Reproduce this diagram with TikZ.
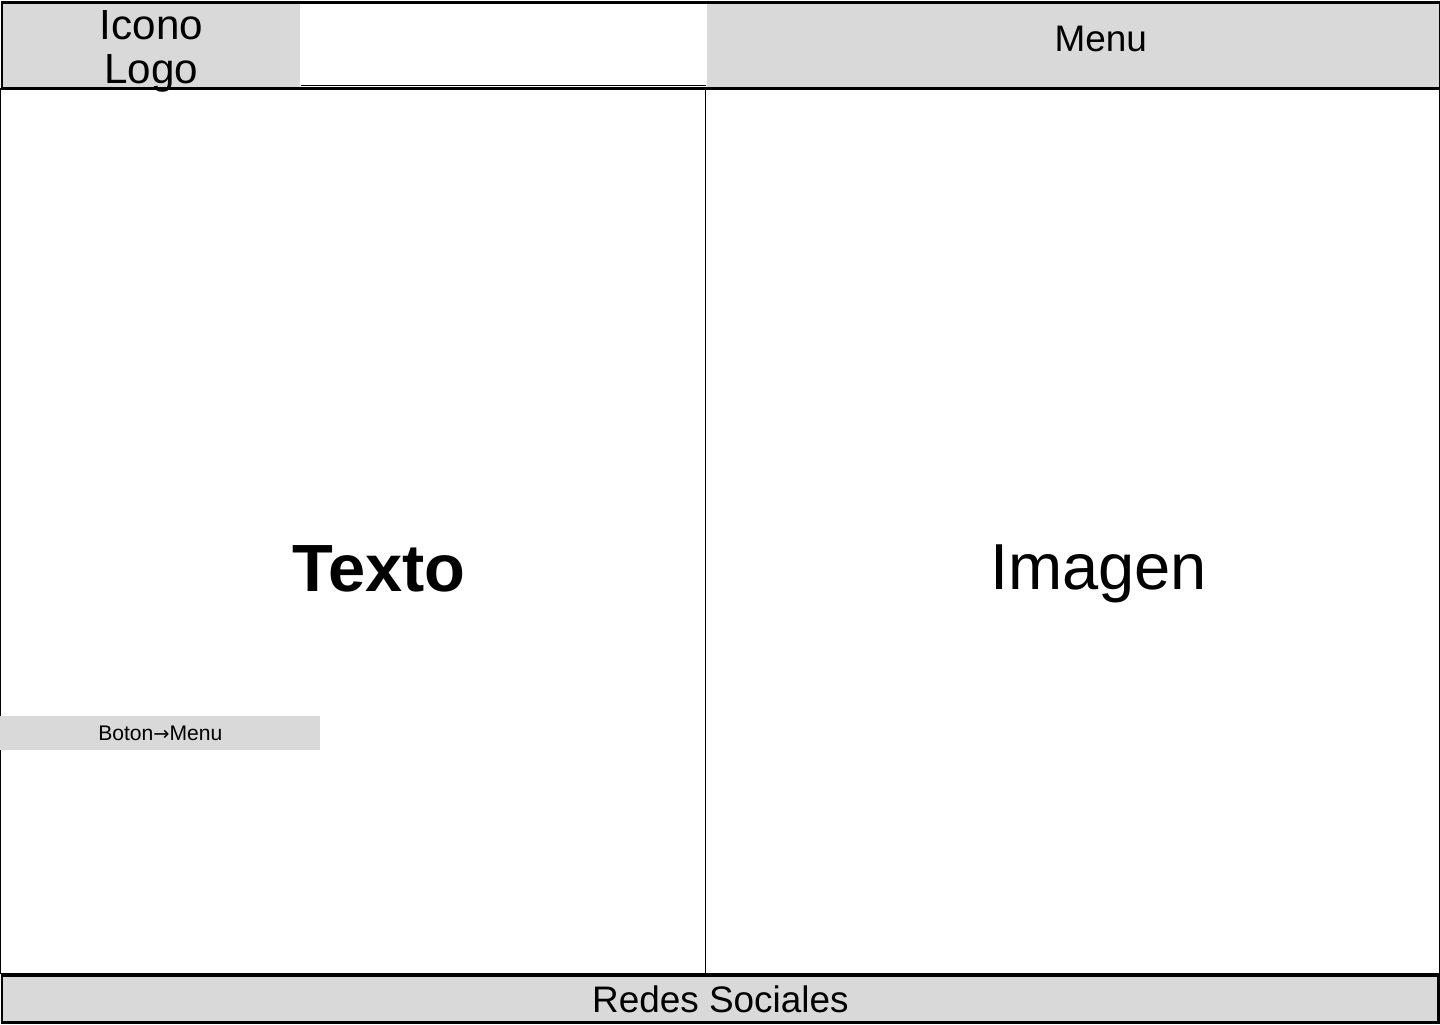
\documentclass[tikz,border=0pt]{standalone}
\usepackage{fontspec}
\setmainfont{Liberation Sans}
\newfontfamily\arrowfont{DejaVu Sans}
\usetikzlibrary{positioning}
\definecolor{UIgray}{RGB}{217, 217, 217}
\tikzset{
  bar/.style={rectangle, fill=UIgray, draw=none, inner sep=0pt, align=center, anchor=north west},
  blank/.style={rectangle, fill=white, draw=none, inner sep=0pt, anchor=north west},
  label/.style={inner sep=0pt, align=center},
  frame/.style={draw=black, line width=1.7pt},
  thin/.style={draw=black, line width=0.55pt},
  big/.style={inner sep=0pt, font=\fontsize{37}{40}\selectfont},
}
\begin{document}
\begin{tikzpicture}
    \useasboundingbox (0,0) rectangle (28.8,-20.48);
    \fill[white] (0,0) rectangle (28.8,-20.48);
    % header
    \node[bar, minimum width=5.96cm, minimum height=1.72cm] (logo) at (0.04,-0.04) {};
    \node[blank, minimum width=8.1cm, minimum height=1.66cm] (blank) at (logo.north east) {};
    \node[bar, minimum width=14.66cm, minimum height=1.72cm] (menu) at (blank.north east) {};
    \node[label, font=\fontsize{24}{27}\selectfont, yshift=-0.12cm] (logotext) at (logo.center) {Icono\\[-2pt]Logo};
    \node[label, font=\fontsize{21}{24}\selectfont, xshift=0.55cm, yshift=0.12cm] (menutext) at (menu.center) {Menu};
    \draw[thin] (blank.south west) -- (blank.south east);
    \draw[frame] (logo.north west) rectangle (menu.south east);
    % body
    \coordinate (bodytl) at (0.01,-1.77);
    \coordinate (bodybr) at (28.79,-19.46);
    \draw[thin] (bodytl) rectangle (bodybr);
    \coordinate (divtop) at (14.11,-1.77);
    \coordinate (divbot) at (14.11,-19.46);
    \draw[thin] (divtop) -- (divbot);
    \node[big, font=\fontsize{38}{42}\bfseries] (texto) at (7.58,-11.38) {Texto};
    \node[big] (imagen) at (21.97,-11.48) {Imagen};
    \node[bar, minimum width=6.4cm, minimum height=0.68cm, font=\fontsize{12}{14}\selectfont] (boton) at (0,-14.32) {Boton{\arrowfont\fontsize{11}{14}\selectfont →}Menu};
    % footer
    \node[bar, minimum width=28.72cm, minimum height=0.94cm, font=\fontsize{21}{24}\selectfont] (redes) at (0.04,-19.5) {Redes Sociales};
    \draw[frame] (redes.north west) rectangle (redes.south east);
  \end{tikzpicture}
\end{document}
